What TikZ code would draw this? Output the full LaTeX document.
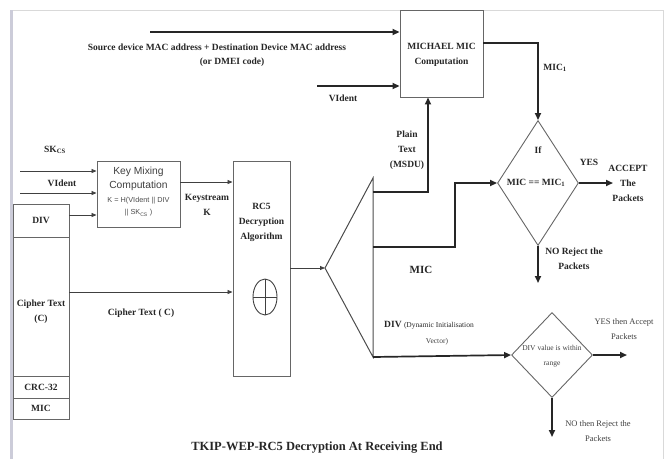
\documentclass[tikz,border=0pt]{standalone}
\usepackage{fontspec}
\setmainfont{Liberation Serif}
\newfontfamily\ksans{Liberation Sans}
\usetikzlibrary{arrows.meta,shapes.geometric}
\begin{document}
\begin{tikzpicture}[x=1pt,y=-1pt,
  thk/.style={line width=1.7pt,draw=black!85},
  thn/.style={line width=0.8pt,draw=black!75},
  tipb/.style={-{Triangle[length=7pt,width=6pt]}},
  tips/.style={-{Triangle[length=5pt,width=4pt]}},
  box/.style={draw=black!60,line width=0.9pt,inner sep=0pt},
  lbl/.style={font=\bfseries\fontsize{9.5}{15}\selectfont,text=black!85,align=center,inner sep=0pt},
  sml/.style={font=\fontsize{8.5}{15}\selectfont,text=black!75,align=center,inner sep=0pt},
  ksm/.style={font=\ksans\fontsize{7.3}{12}\selectfont,text=black!70,align=center,inner sep=0pt},
]
\useasboundingbox (0,0) rectangle (668,459);
% frame
\draw[black!15,line width=0.8pt] (10,10) -- (663,10) -- (663,459);
\draw[blue!25!black!20,line width=3pt] (11.5,10) -- (11.5,459);

% MICHAEL box
\node[box,minimum width=83pt,minimum height=87pt] (michael) at (441.5,53.5) {};
\node[lbl] at (441.5,46) {MICHAEL MIC};
\node[lbl] at (441.5,62) {Computation};
\coordinate (srcA) at (150,32);
\coordinate (vidA) at (317,86);
\draw[thk,tipb] (srcA) -- (srcA -| michael.west);
\draw[thk,tipb] (vidA) -- (vidA -| michael.west);
\node[lbl] at (217,47) {Source device MAC address + Destination Device MAC address};
\node[lbl] at (232,62) {(or DMEI code)};
\node[lbl] at (343,98) {VIdent};

% decision 1
\node[draw=black!60,line width=0.9pt,diamond,minimum width=81pt,minimum height=125pt,inner sep=0pt,shape aspect=0.65] (d1) at (538,183) {};
\node[lbl] at (538,150) {If};
\node[lbl] at (536,183) {MIC == MIC\textsubscript{1}};
\coordinate (mc1) at (538,43);
\draw[thk,tipb] (michael.east |- mc1) -- (mc1) -- (d1.north);
\node[lbl] at (555,68) {MIC\textsubscript{1}};
\coordinate (yes1) at (613,183);
\draw[thk,tipb] (d1.east) -- (yes1);
\node[lbl] at (589,162) {YES};
\node[lbl] at (628,183) {ACCEPT\\The\\Packets};
\coordinate (no1) at (538,283);
\draw[thk,tipb] (d1.south) -- (no1);
\node[lbl] at (574,259) {NO Reject the\\Packets};

% left column
\node[box,minimum width=56pt,minimum height=33pt] (divbox) at (41,220.5) {};
\node[box,minimum width=56pt,minimum height=139pt] (ciph) at (41,306.5) {};
\node[box,minimum width=56pt,minimum height=22pt] (crc) at (41,387) {};
\node[box,minimum width=56pt,minimum height=21pt] (micb) at (41,408.5) {};
\node[lbl] at (41,220) {DIV};
\node[lbl] at (41,312) {Cipher Text\\(C)};
\node[lbl] at (41,387) {CRC-32};
\node[lbl] at (41,408.5) {MIC};

% key mixing
\node[box,fill=white,minimum width=83pt,minimum height=66pt] (keymix) at (138.5,194) {};
\node[font=\ksans\fontsize{10.3}{13.5}\selectfont,text=black!75,align=center,inner sep=0pt] at (138.5,179) {Key Mixing\\Computation};
\node[ksm] at (138.5,207) {K = H(VIdent || DIV\\|| SK\textsubscript{CS} )};
\coordinate (skA) at (20,171);
\coordinate (viA) at (20,193);
\coordinate (dvA) at (69,215);
\draw[thn,tips] (skA) -- (skA -| keymix.west);
\draw[thn,tips] (viA) -- (viA -| keymix.west);
\draw[thn,tips] (dvA) -- (dvA -| keymix.west);
\node[lbl] at (55,150) {SK\textsubscript{CS}};
\node[lbl] at (62,183) {VIdent};

% RC5 box
\node[box,minimum width=57pt,minimum height=215pt] (rc5) at (261.5,268.5) {};
\node[lbl] at (261.5,222) {RC5\\Decryption\\Algorithm};
\draw[black!75,line width=0.9pt] (265,297) ellipse [x radius=12pt,y radius=18pt];
\draw[black!75,line width=0.9pt] (253,297) -- (277,297) (265,279) -- (265,315);
\coordinate (ksA) at (180,182);
\draw[thn,tips] (ksA) -- (ksA -| rc5.west);
\node[lbl] at (207,205) {Keystream\\K};
\coordinate (cpA) at (69,292);
\draw[thn,tips] (cpA) -- (cpA -| rc5.west);
\node[lbl] at (141,313) {Cipher Text ( C)};

% demux triangle
\coordinate (v) at (325,268);
\coordinate (tt) at (373,178);
\coordinate (tb) at (373,357);
\draw[thn,tips] (rc5.east |- v) -- (v);
\draw[black!70,line width=1pt] (tt) -- (v) -- (tb) -- cycle;

% plain text branch
\coordinate (pt1) at (373,192);
\coordinate (pt2) at (428,192);
\draw[thk,tipb] (pt1) -- (pt2) -- (pt2 |- michael.south);
\node[lbl] at (407,150.5) {Plain\\Text\\(MSDU)};

% MIC branch
\coordinate (m1) at (373,247);
\coordinate (m2) at (455,247);
\draw[thk,tipb] (m1) -- (m2) -- (m2 |- d1.west) -- (d1.west);
\node[font=\bfseries\fontsize{11}{12}\selectfont,text=black!85,inner sep=0pt] at (421,270) {MIC};

% decision 2
\node[draw=black!60,line width=0.9pt,diamond,minimum width=81pt,minimum height=85pt,inner sep=0pt,shape aspect=0.95] (d2) at (552,355) {};
\node[font=\fontsize{7.5}{15}\selectfont,text=black!75,align=center,inner sep=0pt] at (552,356.5) {DIV value is within\\range};
\draw[thk,tipb] (tb) -- (d2.west);
\node[anchor=west,inner sep=0pt,text=black!85] at (384,325) {\bfseries\fontsize{9.5}{12}\selectfont DIV \mdseries\fontsize{7.5}{12}\selectfont(Dynamic Initialisation};
\node[sml,font=\fontsize{7.5}{12}\selectfont] at (437,342) {Vector)};
\coordinate (yes2) at (627,355);
\draw[thk,tipb] (d2.east) -- (yes2);
\node[sml] at (624,329.5) {YES then Accept\\Packets};
\coordinate (no2) at (552,437);
\draw[thk,tipb] (d2.south) -- (no2);
\node[sml] at (598,431) {NO then Reject the\\Packets};

% title
\node[font=\bfseries\fontsize{12.5}{13}\selectfont,text=black!85,inner sep=0pt] at (317,448) {TKIP-WEP-RC5 Decryption At Receiving End};
\end{tikzpicture}
\end{document}
